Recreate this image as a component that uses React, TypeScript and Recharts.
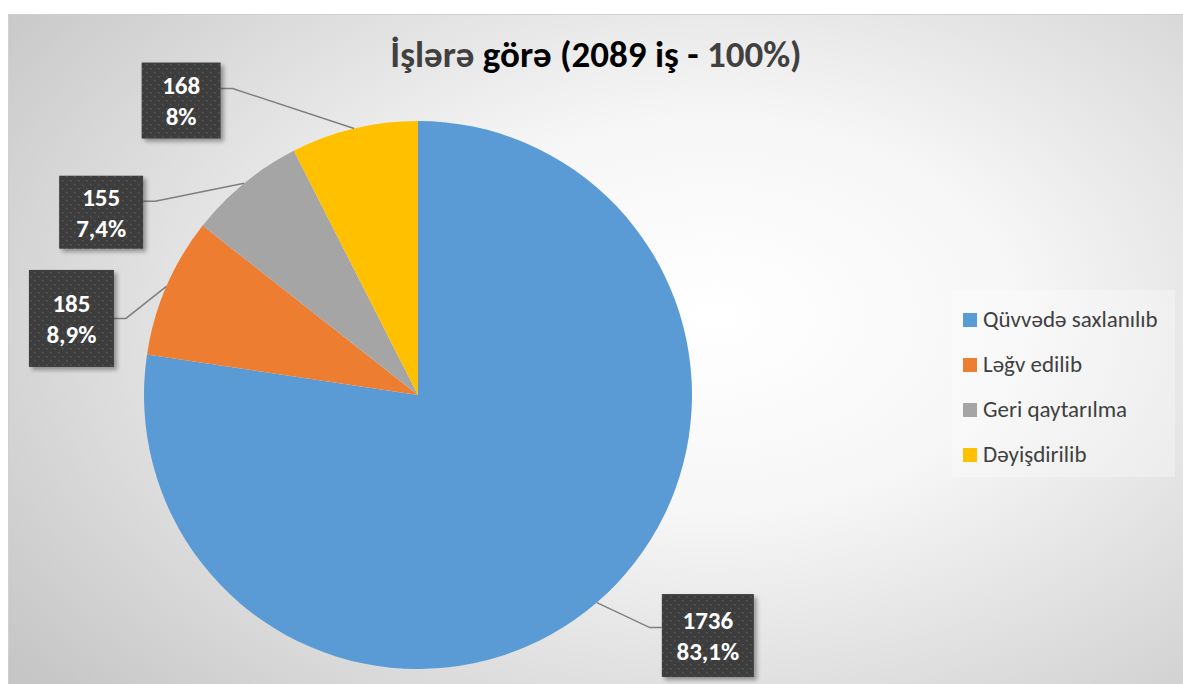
import { PieChart, Pie, Cell, Legend } from "recharts";

const categories = ["Qüvvədə saxlanılıb", "Ləğv edilib", "Geri qaytarılma", "Dəyişdirilib"];
const counts = [1736, 185, 155, 168];
const percentLabels = ["83,1%", "8,9%", "7,4%", "8%"];
const colors = ["#5B9BD5", "#ED7D31", "#A5A5A5", "#FFC000"];

// where each data-label box sits, relative to the slice's outer edge at mid angle
const labelBoxes = [
  { dx: 111, dy: 33, w: 92, h: 83, lineDy: -8 },
  { dx: -95, dy: 32, w: 85, h: 97, lineDy: 0 },
  { dx: -143, dy: 29, w: 84, h: 73, lineDy: -11 },
  { dx: -173, dy: -28, w: 79, h: 76, lineDy: -12 },
];

const FONT = "Carlito, Calibri, Lato, 'Open Sans', sans-serif";
const RAD = Math.PI / 180;

const data = categories.map((name, i) => ({ name, value: counts[i] }));

function renderLabel(props: any) {
  const { cx, cy, midAngle, outerRadius, index } = props;
  const ax = cx + outerRadius * Math.cos(-midAngle * RAD);
  const ay = cy + outerRadius * Math.sin(-midAngle * RAD);
  const b = labelBoxes[index];
  const bx = ax + b.dx;
  const by = ay + b.dy;
  const left = bx < ax;
  const edgeX = left ? bx + b.w / 2 : bx - b.w / 2;
  const elbowX = left ? edgeX + 12 : edgeX - 12;
  const ly = by + b.lineDy;
  const pid = `dots${index}`;
  const fid = `shadow${index}`;
  return (
    <g key={`lbl-${index}`}>
      <defs>
        <pattern id={pid} width={8} height={8} patternUnits="userSpaceOnUse">
          <rect width={8} height={8} fill="#3d3d3d" />
          <rect x={1} y={1} width={1.6} height={1.6} fill="#535353" />
          <rect x={5} y={5} width={1.6} height={1.6} fill="#535353" />
        </pattern>
        <filter id={fid} x="-20%" y="-20%" width="150%" height="150%">
          <feDropShadow dx={3} dy={3} stdDeviation={2} floodColor="#000" floodOpacity={0.35} />
        </filter>
      </defs>
      <polyline
        points={`${ax},${ay} ${elbowX},${ly} ${edgeX},${ly}`}
        fill="none"
        stroke="#7f7f7f"
        strokeWidth={1.5}
      />
      <rect
        x={bx - b.w / 2}
        y={by - b.h / 2}
        width={b.w}
        height={b.h}
        fill={`url(#${pid})`}
        filter={`url(#${fid})`}
      />
      <text x={bx} y={by - 6.5} textAnchor="middle" fill="#fff" fontFamily={FONT} fontWeight={700} fontSize={25}>
        {counts[index]}
      </text>
      <text x={bx} y={by + 24.5} textAnchor="middle" fill="#fff" fontFamily={FONT} fontWeight={700} fontSize={25}>
        {percentLabels[index]}
      </text>
    </g>
  );
}

function LegendBox() {
  return (
    <svg width={223} height={187} style={{ display: "block" }}>
      <rect width={223} height={187} fill="#fff" fillOpacity={0.3} />
      {categories.map((c, i) => (
        <g key={c}>
          <rect x={11} y={23 + i * 45} width={14} height={14} fill={colors[i]} />
          <text x={31} y={37 + i * 45} fontFamily={FONT} fontSize={23} fill="#404040">
            {c}
          </text>
        </g>
      ))}
    </svg>
  );
}

export default function App() {
  return (
    <div
      style={{
        position: "absolute",
        left: 8,
        top: 14,
        width: 1175,
        height: 670,
        borderTop: "1px solid #d0d0d0",
        borderLeft: "1px solid #d0d0d0",
        boxSizing: "border-box",
        background: "radial-gradient(ellipse 75% 85% at 60% 45%, #ffffff 0%, #f6f6f6 35%, #c6c6c6 100%)",
        overflow: "hidden",
      }}
    >
      <svg width={1174} height={80} style={{ position: "absolute", left: 0, top: 0 }}>
        <text
          x={587}
          y={52}
          textAnchor="middle"
          fontFamily={FONT}
          fontWeight={700}
          fontSize={37}
          fill="#000"
        >
          <tspan fill="#404040">İşlərə</tspan> görə (2089 iş - <tspan fill="#404040">100%)</tspan>
        </text>
      </svg>
      <PieChart width={1174} height={669} style={{ position: "absolute", left: 0, top: 0 }}>
        <Pie
          data={data}
          dataKey="value"
          nameKey="name"
          cx={404}
          cy={375}
          outerRadius={274}
          startAngle={90}
          endAngle={-270}
          stroke="none"
          label={renderLabel}
          labelLine={false}
          isAnimationActive={false}
        >
          {data.map((d, i) => (
            <Cell key={d.name} fill={colors[i]} />
          ))}
        </Pie>
        <Legend
          content={() => <LegendBox />}
          wrapperStyle={{ position: "absolute", left: 943, top: 275, width: 223, height: 187, bottom: "auto" }}
        />
      </PieChart>
    </div>
  );
}
